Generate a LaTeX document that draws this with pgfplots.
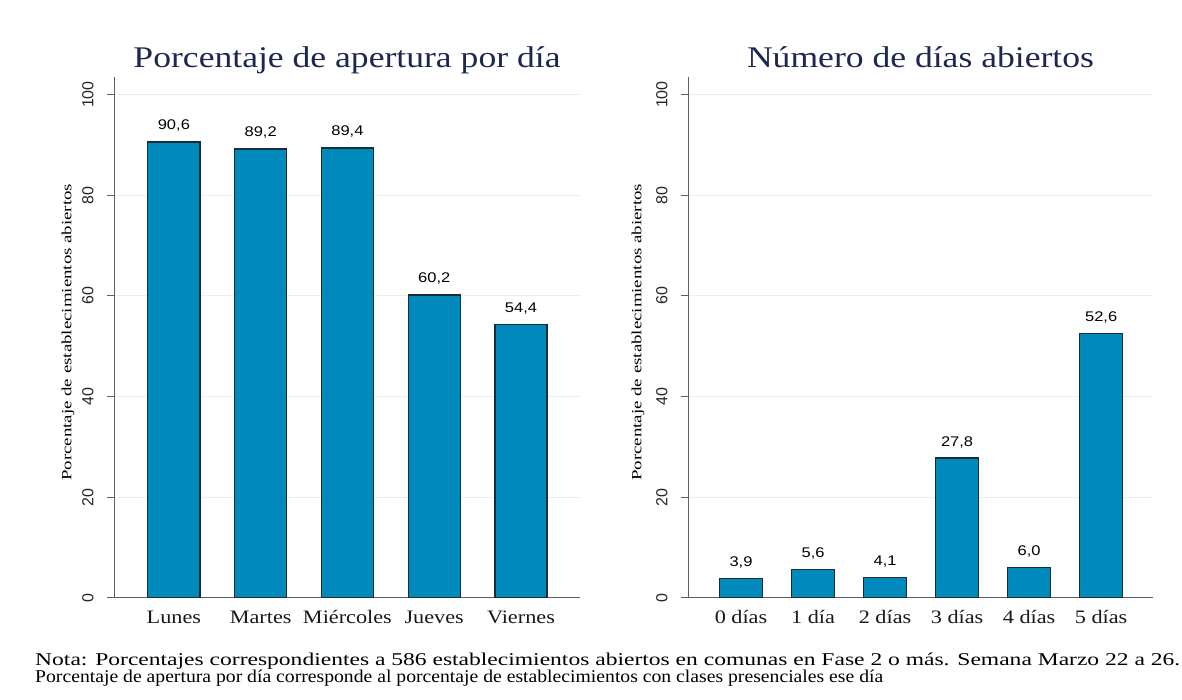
\documentclass[border=0pt]{standalone}
\usepackage{pgfplots}
\pgfplotsset{compat=1.18}
\usepackage{fontspec}
\setmainfont{Liberation Serif}
\newfontfamily\arialf{Liberation Sans}
\usepackage{graphicx}

\definecolor{barfill}{RGB}{0,137,187}
\definecolor{barline}{RGB}{24,44,58}
\definecolor{gridc}{RGB}{232,240,242}
\definecolor{axisc}{RGB}{95,95,95}
\definecolor{titlec}{RGB}{28,40,80}

\newsavebox\tmpbox
\newcommand\hfit[2]{\sbox\tmpbox{#2}\pgfmathsetmacro\tmpsc{#1/\wd\tmpbox}\scalebox{\tmpsc}[1]{\usebox\tmpbox}}

\pgfplotsset{mystyle/.style={
  scale only axis, height=521pt, ymin=0, ymax=103.5,
  axis x line=bottom, axis y line=left,
  axis line style={draw=axisc, line width=1pt, -},
  ytick={0,20,...,100}, tick align=outside, major tick length=7pt,
  y tick style={draw=axisc, line width=1pt}, x tick style={draw=none},
  ymajorgrids, grid style={draw=gridc, line width=1pt},
  ybar, bar width=0.6, xtick=data,
  /pgf/number format/assume math mode=true,
  yticklabel shift=10pt,
  yticklabel style={font=\arialf\fontsize{16}{16}\selectfont, rotate=90, anchor=south, text=black!85},
  xticklabel style={font=\fontsize{19}{19}\selectfont, anchor=base, yshift=-19pt, xscale=1.17, text=black!90},
  title style={at={(0.5,1)}, anchor=base, yshift=3pt, text=titlec},
  nodes near coords={\pgfmathprintnumber[fixed,fixed zerofill,precision=1,use comma,assume math mode=true]{\pgfplotspointmeta}},
  every node near coord/.append style={font=\arialf\fontsize{14}{14}\selectfont, anchor=base, yshift=12pt, inner sep=0pt, xscale=1.18, text=black},
}}

\begin{document}
\begin{tikzpicture}
\fill[white] (0,0) rectangle (1182pt,700pt);
\useasboundingbox (0,0) rectangle (1182pt,700pt);

\begin{axis}[mystyle, at={(114pt,102pt)}, anchor=south west, width=466pt,
  xmin=-0.69, xmax=4.68,
  xticklabels={Lunes,Martes,Miércoles,Jueves,Viernes},
  title={\hfit{427}{\fontsize{30}{30}\selectfont Porcentaje de apertura por día}},
  ylabel={\hfit{297}{\fontsize{14}{14}\selectfont Porcentaje de establecimientos abiertos}},
  y label style={at={(axis description cs:-0.0987,0.51)}, anchor=center},
]
\addplot[fill=barfill, draw=barline, line width=1.2pt] coordinates {(0,90.6) (1,89.2) (2,89.4) (3,60.2) (4,54.4)};
\end{axis}

\begin{axis}[mystyle, at={(688pt,102pt)}, anchor=south west, width=465pt,
  xmin=-0.736, xmax=5.72,
  xticklabels={0 días,1 día,2 días,3 días,4 días,5 días},
  title={\hfit{347}{\fontsize{30}{30}\selectfont Número de días abiertos}},
  ylabel={\hfit{297}{\fontsize{14}{14}\selectfont Porcentaje de establecimientos abiertos}},
  y label style={at={(axis description cs:-0.1075,0.51)}, anchor=center},
]
\addplot[fill=barfill, draw=barline, line width=1.2pt] coordinates {(0,3.9) (1,5.6) (2,4.1) (3,27.8) (4,6.0) (5,52.6)};
\end{axis}

\node[anchor=base west, inner sep=0pt] at (35pt,34pt) {\hfit{1145}{\fontsize{18}{18}\selectfont Nota: Porcentajes correspondientes a 586 establecimientos abiertos en comunas en Fase 2 o más. Semana Marzo 22 a 26.}};
\node[anchor=base west, inner sep=0pt] at (35pt,17pt) {\hfit{848}{\fontsize{18}{18}\selectfont Porcentaje de apertura por día corresponde al porcentaje de establecimientos con clases presenciales ese día}};
\end{tikzpicture}
\end{document}
